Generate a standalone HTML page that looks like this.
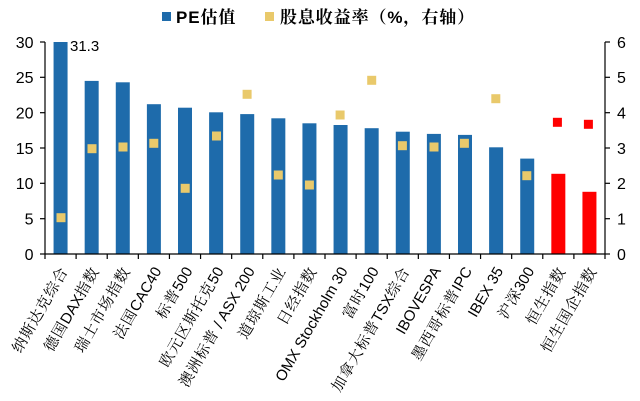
<!DOCTYPE html>
<html><head><meta charset="utf-8">
<style>
html,body{margin:0;padding:0;background:#fff;}
svg{display:block;}
.t{font-family:"Liberation Sans","Noto Sans CJK SC",sans-serif;font-size:16px;fill:#000;}
.v{font-family:"Liberation Sans","Noto Sans CJK SC",sans-serif;font-size:15px;fill:#000;}
.lab{font-family:"Liberation Sans","Noto Serif CJK SC",serif;font-size:15px;fill:#000;}
.lab tspan.c{letter-spacing:1px;}
.leg{font-family:"Liberation Sans","Noto Serif CJK SC",serif;font-size:17px;font-weight:bold;fill:#000;letter-spacing:0.9px;}
</style></head>
<body>
<svg width="640" height="401" viewBox="0 0 640 401" xmlns="http://www.w3.org/2000/svg">
<rect width="640" height="401" fill="#fff"/>
<!-- legend -->
<rect x="162" y="12" width="9" height="9" fill="#1E6BAB"/>
<text class="leg" x="176" y="23">PE估值</text>
<rect x="265" y="12" width="9" height="9" fill="#E9C96B"/>
<text class="leg" x="280" y="23">股息收益率（%，右轴）</text>

<!-- bars -->
<g fill="#1E6BAB">
<rect x="53.56" y="42" width="14" height="212"/>
<rect x="84.67" y="80.9" width="14" height="173.1"/>
<rect x="115.78" y="82.3" width="14" height="171.7"/>
<rect x="146.89" y="104.2" width="14" height="149.8"/>
<rect x="178" y="107.7" width="14" height="146.3"/>
<rect x="209.11" y="112.3" width="14" height="141.7"/>
<rect x="240.22" y="114.1" width="14" height="139.9"/>
<rect x="271.33" y="118.3" width="14" height="135.7"/>
<rect x="302.44" y="123.3" width="14" height="130.7"/>
<rect x="333.56" y="125" width="14" height="129"/>
<rect x="364.67" y="128.2" width="14" height="125.8"/>
<rect x="395.78" y="131.7" width="14" height="122.3"/>
<rect x="426.89" y="133.9" width="14" height="120.1"/>
<rect x="458" y="134.9" width="14" height="119.1"/>
<rect x="489.11" y="147.3" width="14" height="106.7"/>
<rect x="520.22" y="158.6" width="14" height="95.4"/>
</g>
<g fill="#FF0000">
<rect x="551.33" y="173.8" width="14" height="80.2"/>
<rect x="582.44" y="191.8" width="14" height="62.2"/>
</g>
<text class="v" x="70" y="51">31.3</text>

<!-- markers -->
<g fill="#E9C96B">
<rect x="56.5" y="213.2" width="9" height="9"/>
<rect x="87.5" y="144.2" width="9" height="9"/>
<rect x="118.5" y="142.5" width="9" height="9"/>
<rect x="149.3" y="138.8" width="9" height="9"/>
<rect x="180.7" y="183.8" width="9" height="9"/>
<rect x="212" y="131.5" width="9" height="9"/>
<rect x="242.6" y="89.8" width="9" height="9"/>
<rect x="273.8" y="170.5" width="9" height="9"/>
<rect x="304.9" y="180.5" width="9" height="9"/>
<rect x="335.6" y="110.5" width="9" height="9"/>
<rect x="367.2" y="75.8" width="9" height="9"/>
<rect x="397.9" y="141.2" width="9" height="9"/>
<rect x="429.5" y="142.5" width="9" height="9"/>
<rect x="459.9" y="138.8" width="9" height="9"/>
<rect x="491.3" y="94.2" width="9" height="9"/>
<rect x="522.3" y="171.2" width="9" height="9"/>
</g>
<g fill="#FF0000">
<rect x="552.9" y="117.8" width="9" height="9"/>
<rect x="583.9" y="119.8" width="9" height="9"/>
</g>

<!-- axes -->
<g stroke="#000" stroke-width="1.2" fill="none">
<line x1="45" y1="42" x2="45" y2="254"/>
<line x1="605" y1="42" x2="605" y2="254"/>
<line x1="45" y1="254" x2="605" y2="254"/>
<line x1="40" y1="42" x2="45" y2="42"/>
<line x1="40" y1="77.3" x2="45" y2="77.3"/>
<line x1="40" y1="112.7" x2="45" y2="112.7"/>
<line x1="40" y1="148" x2="45" y2="148"/>
<line x1="40" y1="183.3" x2="45" y2="183.3"/>
<line x1="40" y1="218.7" x2="45" y2="218.7"/>
<line x1="40" y1="254" x2="45" y2="254"/>
<line x1="605" y1="42" x2="610" y2="42"/>
<line x1="605" y1="77.3" x2="610" y2="77.3"/>
<line x1="605" y1="112.7" x2="610" y2="112.7"/>
<line x1="605" y1="148" x2="610" y2="148"/>
<line x1="605" y1="183.3" x2="610" y2="183.3"/>
<line x1="605" y1="218.7" x2="610" y2="218.7"/>
<line x1="605" y1="254" x2="610" y2="254"/>
<line x1="45" y1="254" x2="45" y2="259"/>
<line x1="76.11" y1="254" x2="76.11" y2="259"/>
<line x1="107.22" y1="254" x2="107.22" y2="259"/>
<line x1="138.33" y1="254" x2="138.33" y2="259"/>
<line x1="169.44" y1="254" x2="169.44" y2="259"/>
<line x1="200.56" y1="254" x2="200.56" y2="259"/>
<line x1="231.67" y1="254" x2="231.67" y2="259"/>
<line x1="262.78" y1="254" x2="262.78" y2="259"/>
<line x1="293.89" y1="254" x2="293.89" y2="259"/>
<line x1="325" y1="254" x2="325" y2="259"/>
<line x1="356.11" y1="254" x2="356.11" y2="259"/>
<line x1="387.22" y1="254" x2="387.22" y2="259"/>
<line x1="418.33" y1="254" x2="418.33" y2="259"/>
<line x1="449.44" y1="254" x2="449.44" y2="259"/>
<line x1="480.56" y1="254" x2="480.56" y2="259"/>
<line x1="511.67" y1="254" x2="511.67" y2="259"/>
<line x1="542.78" y1="254" x2="542.78" y2="259"/>
<line x1="573.89" y1="254" x2="573.89" y2="259"/>
<line x1="605" y1="254" x2="605" y2="259"/>
</g>

<!-- left tick labels -->
<g class="t" text-anchor="end">
<text x="33.5" y="47.8">30</text>
<text x="33.5" y="83.1">25</text>
<text x="33.5" y="118.5">20</text>
<text x="33.5" y="153.8">15</text>
<text x="33.5" y="189.1">10</text>
<text x="33.5" y="224.5">5</text>
<text x="33.5" y="259.8">0</text>
</g>
<!-- right tick labels -->
<g class="t">
<text x="617" y="47.8">6</text>
<text x="617" y="83.1">5</text>
<text x="617" y="118.5">4</text>
<text x="617" y="153.8">3</text>
<text x="617" y="189.1">2</text>
<text x="617" y="224.5">1</text>
<text x="617" y="259.8">0</text>
</g>

<!-- x labels -->
<g class="lab" text-anchor="end">
<text transform="translate(64,268) rotate(-60)" dy="0.35em"><tspan class="c">纳斯达克综合</tspan></text>
<text transform="translate(95.2,268) rotate(-60)" dy="0.35em"><tspan class="c">德国</tspan>DAX<tspan class="c">指数</tspan></text>
<text transform="translate(126.3,268) rotate(-60)" dy="0.35em"><tspan class="c">瑞士市场指数</tspan></text>
<text transform="translate(157.4,268) rotate(-60)" dy="0.35em"><tspan class="c">法国</tspan>CAC40</text>
<text transform="translate(188.5,268) rotate(-60)" dy="0.35em"><tspan class="c">标普</tspan>500</text>
<text transform="translate(219.6,268) rotate(-60)" dy="0.35em"><tspan class="c">欧元区斯托克</tspan>50</text>
<text transform="translate(250.7,268) rotate(-60)" dy="0.35em"><tspan class="c">澳洲标普</tspan> / ASX 200</text>
<text transform="translate(281.8,268) rotate(-60)" dy="0.35em"><tspan class="c">道琼斯工业</tspan></text>
<text transform="translate(312.9,268) rotate(-60)" dy="0.35em"><tspan class="c">日经指数</tspan></text>
<text transform="translate(343.6,268) rotate(-60)" dy="0.35em">OMX Stockholm 30</text>
<text transform="translate(374.7,268) rotate(-60)" dy="0.35em"><tspan class="c">富时</tspan>100</text>
<text transform="translate(405.8,268) rotate(-60)" dy="0.35em"><tspan class="c">加拿大标普</tspan>TSX<tspan class="c">综合</tspan></text>
<text transform="translate(436.9,268) rotate(-60)" dy="0.35em">IBOVESPA</text>
<text transform="translate(468,268) rotate(-60)" dy="0.35em"><tspan class="c">墨西哥标普</tspan>IPC</text>
<text transform="translate(499.1,268) rotate(-60)" dy="0.35em">IBEX 35</text>
<text transform="translate(530.2,268) rotate(-60)" dy="0.35em"><tspan class="c">沪深</tspan>300</text>
<text transform="translate(561.8,268) rotate(-60)" dy="0.35em"><tspan class="c">恒生指数</tspan></text>
<text transform="translate(592.9,268) rotate(-60)" dy="0.35em"><tspan class="c">恒生国企指数</tspan></text>
</g>
</svg>
</body></html>
